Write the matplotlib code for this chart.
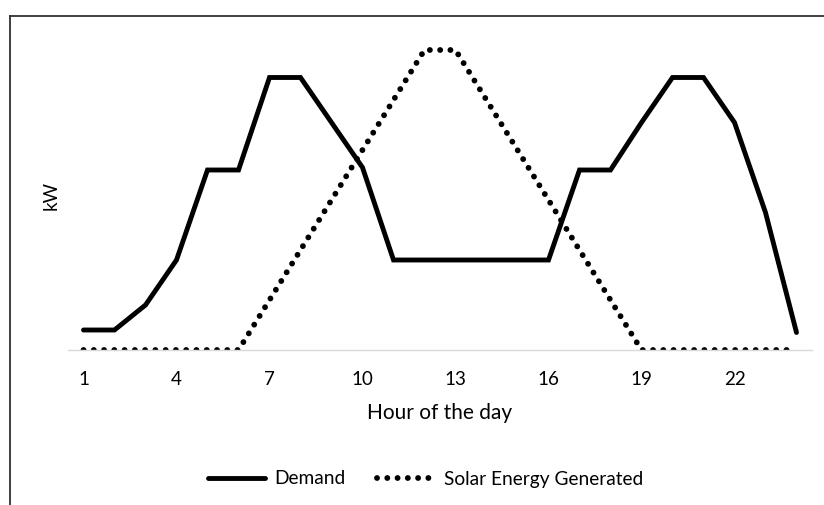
import numpy as np
import matplotlib
matplotlib.use("Agg")
import matplotlib.pyplot as plt
from matplotlib.lines import Line2D

matplotlib.rcParams['font.family'] = ['Lato', 'DejaVu Sans']

hours = list(range(1, 25))
demand = [0.8, 0.8, 1.8, 3.6, 7.2, 7.2, 10.9, 10.9, 9.1, 7.3, 3.6, 3.6,
          3.6, 3.6, 3.6, 3.6, 7.2, 7.2, 9.1, 10.9, 10.9, 9.1, 5.5, 0.7]
solar = [0, 0, 0, 0, 0, 0, 2, 4, 6, 8, 10, 12,
         12, 10, 8, 6, 4, 2, 0, 0, 0, 0, 0, 0]
tick_hours = [1, 4, 7, 10, 13, 16, 19, 22]

W, H = 824, 505
fig = plt.figure(figsize=(W / 100, H / 100), dpi=100)
ax = fig.add_axes([68 / W, 1 - 350 / H, (812 - 68) / W, (350 - 40) / H])

ax.plot(hours, demand, color='black', lw=3.5, solid_joinstyle='miter',
        solid_capstyle='round', label='Demand')
ax.plot(hours, solar, color='black', lw=4.2, linestyle=(0, (0.01, 1.75)),
        dash_capstyle='round', label='Solar Energy Generated')

ax.set_xlim(0.5, 24.5)
ax.set_ylim(0, 12.4)
ax.set_xticks(tick_hours)
ax.set_xticklabels([str(h) for h in tick_hours])
ax.set_yticks([])
ax.tick_params(axis='x', length=0, pad=15, labelsize=13.5)

for s in ['top', 'right', 'left']:
    ax.spines[s].set_visible(False)
ax.spines['bottom'].set_color('#d9d9d9')
ax.spines['bottom'].set_linewidth(1)

ax.set_xlabel("Hour of the day", fontsize=15, labelpad=11)
ax.set_ylabel("kW", fontsize=13.5)
ax.yaxis.set_label_coords(-0.011, 0.5)

fig.legend(loc='center', bbox_to_anchor=(0.516, 1 - 479 / H), ncol=2,
           frameon=False, fontsize=13.8, handlelength=3.0, handletextpad=0.5,
           columnspacing=1.6)

# chart border (cropped box)
fig.add_artist(Line2D([10 / W, 1], [1 - 16 / H, 1 - 16 / H],
                      transform=fig.transFigure, color='#303030', lw=1.3))
fig.add_artist(Line2D([10 / W, 10 / W], [0, 1 - 16 / H],
                      transform=fig.transFigure, color='#303030', lw=1.3))

fig.savefig("out.png", dpi=100)
